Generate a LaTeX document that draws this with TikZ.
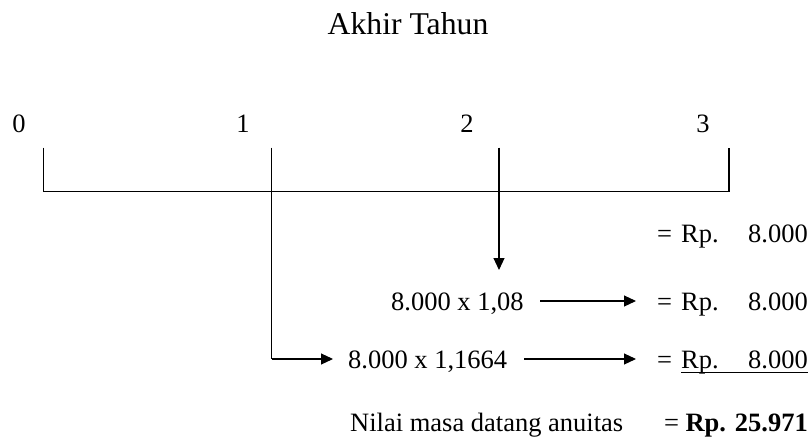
\documentclass[tikz,border=0pt]{standalone}
\usepackage{fontspec}
\setmainfont{Liberation Serif}
\usetikzlibrary{arrows.meta}
\begin{document}
\begin{tikzpicture}[x=1pt,y=-1pt,
  txt/.style={inner sep=0pt,font=\fontsize{26.5}{30}\selectfont},
  ttl/.style={inner sep=0pt,font=\fontsize{31.7}{36}\selectfont},
  axis/.style={line width=1.1pt},
  flow/.style={line width=1.1pt,-{Triangle[length=12pt,width=11pt]}}]
\useasboundingbox (0,0) rectangle (810,438);
% title
\node[ttl,anchor=base] (title) at (408,35) {Akhir Tahun};
% year labels
\node[txt,anchor=base] (y0) at (19,133) {0};
\node[txt,anchor=base] (y1) at (243,133) {1};
\node[txt,anchor=base] (y2) at (467,133) {2};
\node[txt,anchor=base] (y3) at (703,133) {3};
% time line
\coordinate (t0) at (43.3,147.7);
\coordinate (t1) at (271.7,147.7);
\coordinate (t2) at (499,147.7);
\coordinate (t3) at (729,147.7);
\coordinate (b0) at (43.3,191.7);
\coordinate (b3) at (729,191.7);
\draw[axis] (t0) -- (b0) -- (b3) -- (t3);
% row 1: payment at the end of year 3
\node[txt,anchor=base west] (eq1) at (657,243) {=};
\node[txt,anchor=base west] (rp1) at (681,243) {Rp.};
\node[txt,anchor=base east] (v1) at (808,243) {8.000};
% row 2: payment of year 2 compounded once
\node[txt,anchor=base west] (c2) at (391,310) {8.000 x 1,08};
\node[txt,anchor=base west] (eq2) at (657,310) {=};
\node[txt,anchor=base west] (rp2) at (681,310) {Rp.};
\node[txt,anchor=base east] (v2) at (808,310) {8.000};
\coordinate (a2s) at (540,301);
\coordinate (a2e) at (636,301);
\draw[flow] (a2s) -- (a2e);
% row 3: payment of year 1 compounded twice
\node[txt,anchor=base west] (c3) at (348,368) {8.000 x 1,1664};
\node[txt,anchor=base west] (eq3) at (657,368) {=};
\node[txt,anchor=base west] (rp3) at (681,368) {Rp.};
\node[txt,anchor=base east] (v3) at (808,368) {8.000};
\coordinate (a3s) at (524,359);
\coordinate (a3e) at (636,359);
\draw[flow] (a3s) -- (a3e);
\coordinate (u3s) at (681,372);
\coordinate (u3e) at (808,372);
\draw[line width=1pt] (u3s) -- (u3e);
% row 4: total
\node[txt,anchor=base west] (lbl4) at (350,431) {Nilai masa datang anuitas};
\node[txt,anchor=base east] (v4) at (808,431) {= \textbf{Rp. 25.971}};
% payments carried forward
\coordinate (d2) at (499,270);
\draw[flow] (t2) -- (d2);
\coordinate (k3) at (271.7,359);
\coordinate (e3) at (333,359);
\draw[axis] (t1) -- (k3);
\draw[flow] (k3) -- (e3);
\end{tikzpicture}
\end{document}
